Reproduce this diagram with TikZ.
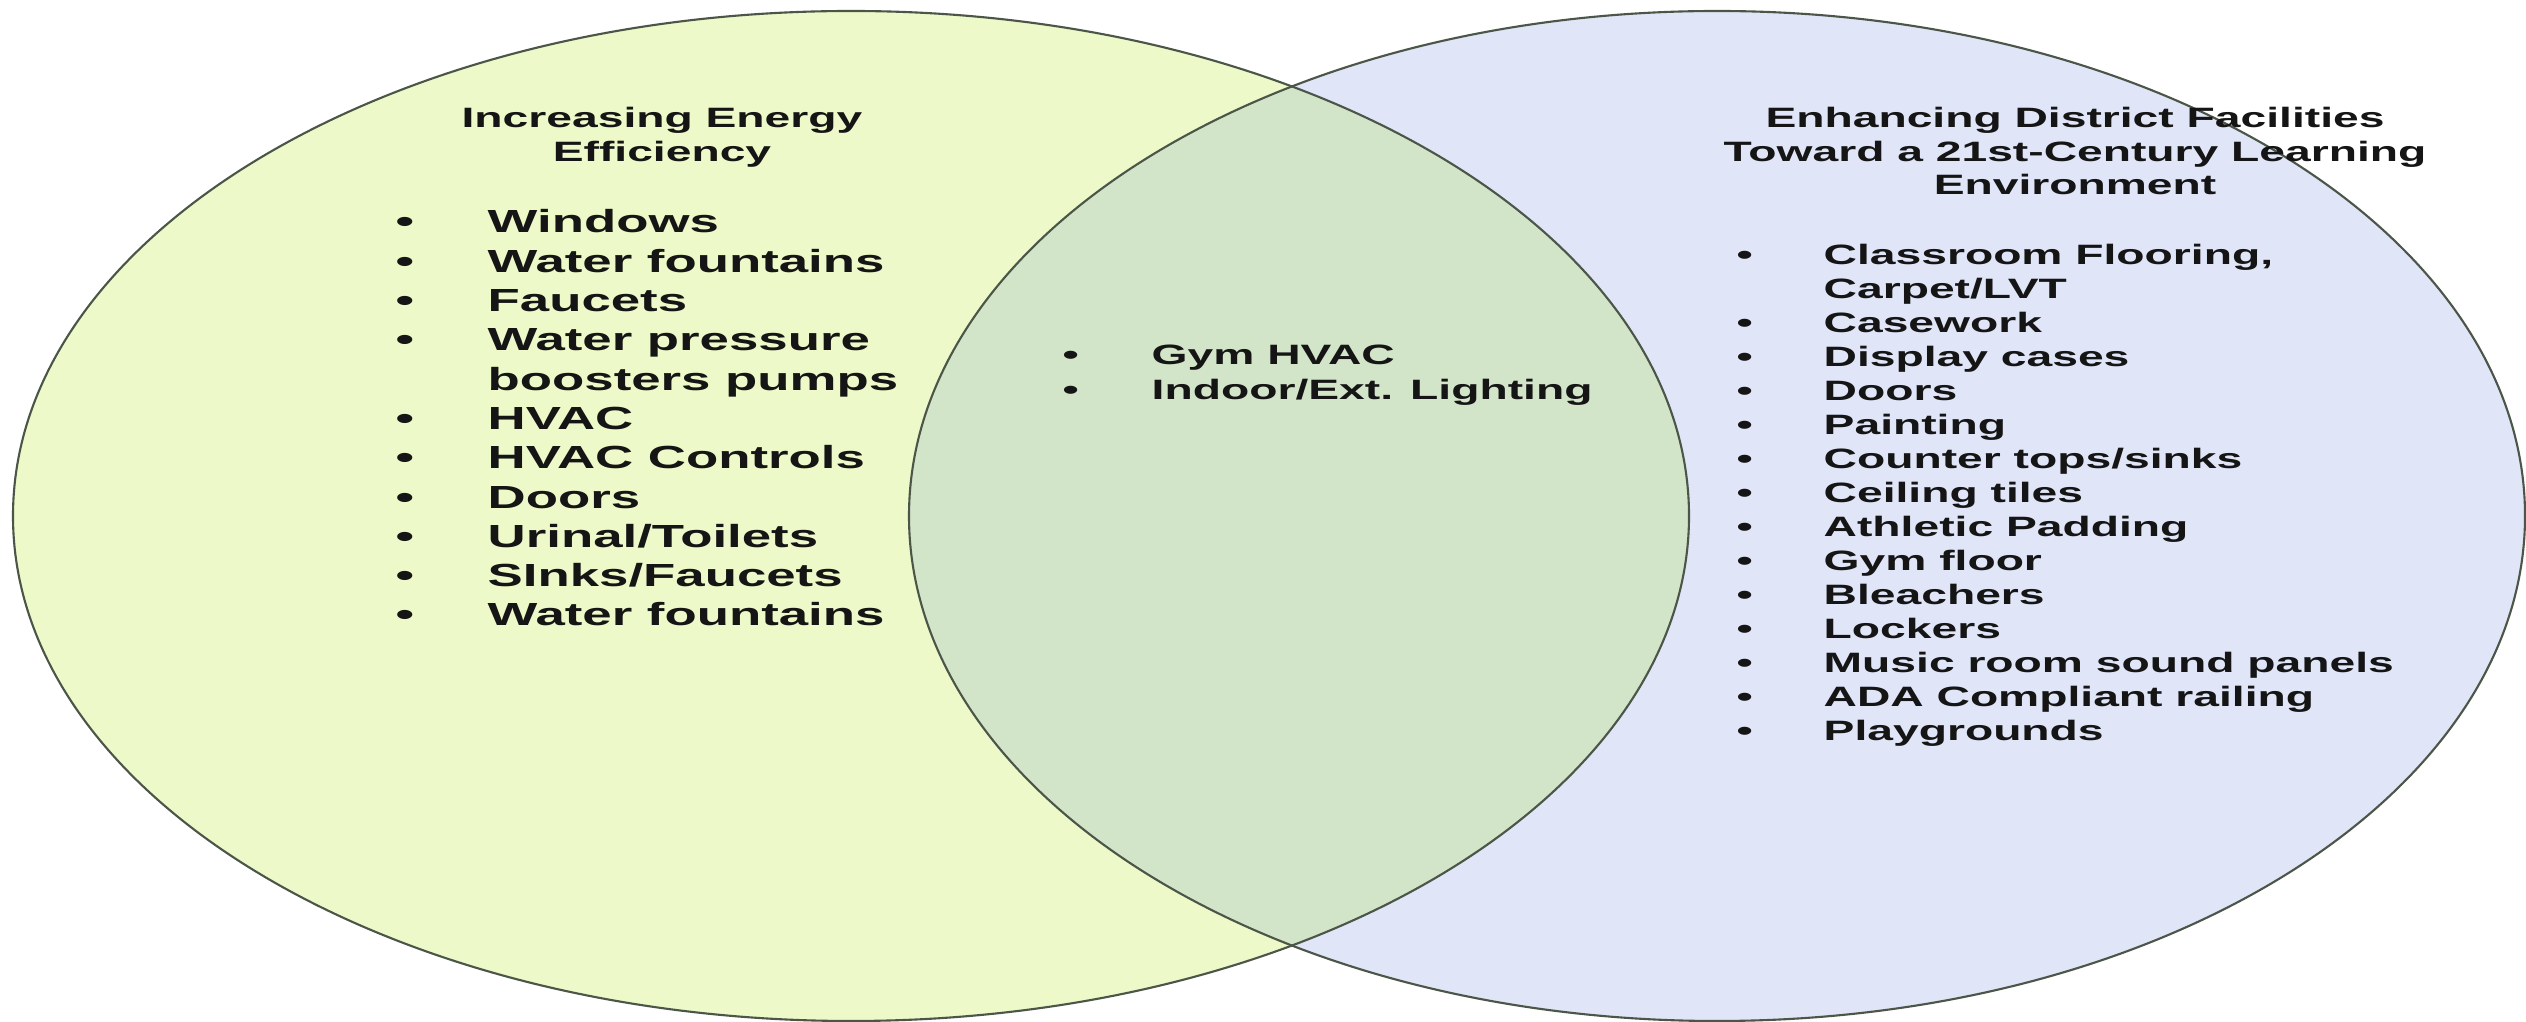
\documentclass[tikz,border=0pt]{standalone}
\usepackage{fontspec}
\newfontfamily\vennfont{Liberation Sans}[FakeStretch=1.65]
\definecolor{effFill}{HTML}{EDF9C8}
\definecolor{facFill}{HTML}{E0E5F8}
\definecolor{bothFill}{HTML}{D3E5C9}
\definecolor{rimColor}{HTML}{4B5548}
\definecolor{inkColor}{HTML}{151515}

\tikzset{
  rim/.style={draw=rimColor, line width=0.6pt},
  headtext/.style={font=\vennfont\bfseries\fontsize{7.97}{9.4}\selectfont, text=inkColor, inner sep=0pt, anchor=base},
  bigitem/.style={font=\vennfont\bfseries\fontsize{9.1}{11.2}\selectfont, text=inkColor, inner sep=0pt, anchor=base west},
  smallitem/.style={font=\vennfont\bfseries\fontsize{7.97}{9.7}\selectfont, text=inkColor, inner sep=0pt, anchor=base west}
}

\begin{document}
\begin{tikzpicture}
\useasboundingbox (0,0) rectangle (25.26,10.22);
\fill[white] (0,0) rectangle (25.26,10.22);

% the two sets and their overlap
\fill[effFill] (8.51,5.06) ellipse [x radius=8.38, y radius=5.05];
\fill[facFill] (17.17,5.06) ellipse [x radius=8.08, y radius=5.05];
\begin{scope}
  \clip (8.51,5.06) ellipse [x radius=8.38, y radius=5.05];
  \fill[bothFill] (17.17,5.06) ellipse [x radius=8.08, y radius=5.05];
\end{scope}
\draw[rim] (8.51,5.06) ellipse [x radius=8.38, y radius=5.05];
\draw[rim] (17.17,5.06) ellipse [x radius=8.08, y radius=5.05];

% headings
\node[headtext] (effHead1) at (6.62,8.94) {Increasing Energy};
\node[headtext] (effHead2) at (6.62,8.60) {Efficiency};
\node[headtext] (facHead1) at (20.75,8.94) {Enhancing District Facilities};
\node[headtext] (facHead2) at (20.75,8.60) {Toward a 21st-Century Learning};
\node[headtext] (facHead3) at (20.75,8.27) {Environment};

% left list
\foreach \b/\txt [count=\i from 0] in {1/Windows, 1/Water fountains, 1/Faucets,
    1/Water pressure, 0/boosters pumps, 1/HVAC, 1/HVAC Controls, 1/Doors,
    1/{Urinal/Toilets}, 1/{SInks/Faucets}, 1/Water fountains}{
  \node[bigitem] (eff\i) at (4.87,{7.89-0.393*\i}) {\txt};
  \ifnum\b=1 \node[bigitem] (effDot\i) at (3.95,{7.89-0.393*\i}) {\textbullet}; \fi
}

% middle list
\foreach \b/\txt [count=\i from 0] in {1/Gym HVAC, 1/{Indoor/Ext. Lighting}}{
  \node[smallitem] (both\i) at (11.51,{6.57-0.35*\i}) {\txt};
  \ifnum\b=1 \node[smallitem] (bothDot\i) at (10.62,{6.57-0.35*\i}) {\textbullet}; \fi
}

% right list
\foreach \b/\txt [count=\i from 0] in {1/{Classroom Flooring,}, 0/{Carpet/LVT}, 1/Casework,
    1/Display cases, 1/Doors, 1/Painting, 1/{Counter tops/sinks}, 1/Ceiling tiles,
    1/Athletic Padding, 1/Gym floor, 1/Bleachers, 1/Lockers,
    1/Music room sound panels, 1/ADA Compliant railing, 1/Playgrounds}{
  \node[smallitem] (fac\i) at (18.23,{7.57-0.34*\i}) {\txt};
  \ifnum\b=1 \node[smallitem] (facDot\i) at (17.36,{7.57-0.34*\i}) {\textbullet}; \fi
}
\end{tikzpicture}
\end{document}
